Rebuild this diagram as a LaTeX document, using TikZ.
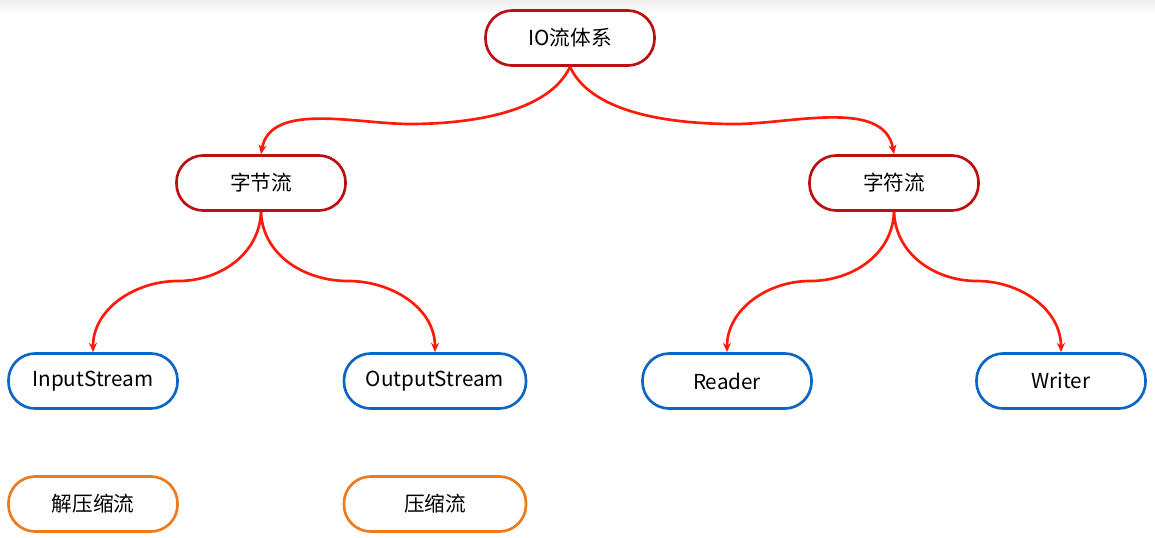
\documentclass[tikz,border=0pt]{standalone}
\usepackage{fontspec}
\setmainfont{Noto Sans CJK SC}
\usetikzlibrary{arrows.meta}
\definecolor{darkred}{HTML}{BC1010}
\definecolor{edgered}{HTML}{FF1A0A}
\definecolor{boxblue}{HTML}{0B66C4}
\definecolor{boxorange}{HTML}{EE7A1C}
\tikzset{
  box/.style={draw, line width=2pt, rounded corners=20pt, fill=white,
    minimum width=126.75pt, minimum height=41.25pt, inner sep=0pt,
    font=\fontsize{15.5}{17}\selectfont, text=black},
  redbox/.style={box, draw=darkred},
  bluebox/.style={box, draw=boxblue},
  orangebox/.style={box, draw=boxorange},
  wide/.style={minimum width=136.5pt},
  edge/.style={draw=edgered, line width=2pt, -{Stealth[length=7pt,width=6pt]}}
}
\begin{document}
\begin{tikzpicture}[x=0.75pt,y=-0.75pt]
\useasboundingbox (0,0) rectangle (1155,537);
\shade[top color=black!7, bottom color=white] (0,0) rectangle (1155,14);
\node[redbox] (io) at (570,38) {IO流体系};
\node[redbox] (zj) at (261,183) {字节流};
\node[redbox] (zf) at (894,183) {字符流};
\node[bluebox] (in) at (93,381) {InputStream};
\node[bluebox,wide] (out) at (435,381) {OutputStream};
\node[bluebox] (rd) at (727,381) {Reader};
\node[bluebox] (wr) at (1061,381) {Writer};
\node[orangebox] (jy) at (93,504) {解压缩流};
\node[orangebox,wide] (ys) at (435,504) {压缩流};
\coordinate (m1) at (410,124);
\coordinate (m2) at (735,124);
\coordinate (m3) at (178,281);
\coordinate (m4) at (348,281);
\coordinate (m5) at (810,281);
\coordinate (m6) at (977,281);
\draw[edge] (io.south) to[out=-115,in=0,looseness=0.8] (m1) to[out=180,in=80,looseness=0.9] (zj.north);
\draw[edge] (io.south) to[out=-65,in=180,looseness=0.8] (m2) to[out=0,in=100,looseness=0.9] (zf.north);
\draw[edge] (zj.south) to[out=-92,in=0] (m3) to[out=180,in=90] (in.north);
\draw[edge] (zj.south) to[out=-88,in=180] (m4) to[out=0,in=90] (out.north);
\draw[edge] (zf.south) to[out=-92,in=0] (m5) to[out=180,in=90] (rd.north);
\draw[edge] (zf.south) to[out=-88,in=180] (m6) to[out=0,in=90] (wr.north);
\end{tikzpicture}
\end{document}
